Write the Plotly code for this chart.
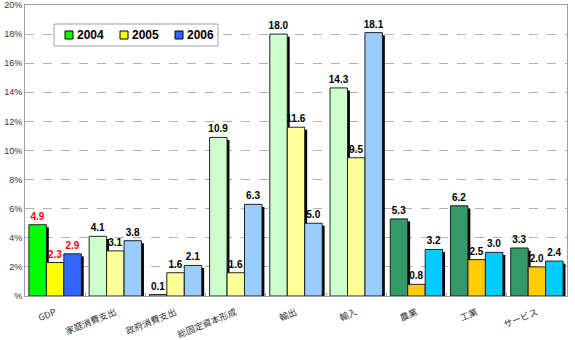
import plotly.graph_objects as go

# Real growth rates (%) by expenditure item and sector
categories = ["GDP", "家庭消費支出", "政府消費支出", "総固定資本形成", "輸出", "輸入",
              "農業", "工業", "サービス"]
years = ["2004", "2005", "2006"]
growth_2004 = [4.9, 4.1, 0.1, 10.9, 18.0, 14.3, 5.3, 6.2, 3.3]
growth_2005 = [2.3, 3.1, 1.6, 1.6, 11.6, 9.5, 0.8, 2.5, 2.0]
growth_2006 = [2.9, 3.8, 2.1, 6.3, 5.0, 18.1, 3.2, 3.0, 2.4]
y_ticks = [0, 2, 4, 6, 8, 10, 12, 14, 16, 18, 20]
y_tick_labels = ["%"] + [f"{v}%" for v in y_ticks[1:]]

# Colour sets: GDP / demand components / industry sectors
group_of = [0, 1, 1, 1, 1, 1, 2, 2, 2]
palette = {
    "2004": ["#00FF00", "#CCFFCC", "#339966"],
    "2005": ["#FFFF00", "#FFFF99", "#FFCC00"],
    "2006": ["#3366FF", "#99CCFF", "#00CCFF"],
}
label_colors = ["#FF0000" if g == 0 else "#000000" for g in group_of]

series = {"2004": growth_2004, "2005": growth_2005, "2006": growth_2006}

W, H = 575, 340
M = dict(l=25, r=8, t=5, b=44)
plot_w = W - M["l"] - M["r"]
plot_h = H - M["t"] - M["b"]


def px_x(px):
    return (px - M["l"]) / plot_w


def px_y(py):
    return (H - M["b"] - py) / plot_h


bar_w = 0.29
offsets = [-1.5 * bar_w, -0.5 * bar_w, 0.5 * bar_w]
shadow_dx = 0.04
shadow_dy = 0.18

fig = go.Figure()
for yr, off in zip(years, offsets):
    vals = series[yr]
    colors = [palette[yr][g] for g in group_of]
    # drop shadow behind each bar
    fig.add_trace(go.Bar(
        x=categories, y=vals, base=-shadow_dy, offset=off + shadow_dx, width=bar_w,
        marker=dict(color="#000000", line=dict(width=0)),
        showlegend=False, hoverinfo="skip",
    ))
    fig.add_trace(go.Bar(
        x=categories, y=vals, offset=off, width=bar_w, name=yr,
        marker=dict(color=colors, line=dict(color="#222222", width=1)),
        texttemplate="%{y:.1f}", textposition="outside", constraintext="none",
        textfont=dict(family="Liberation Sans", size=10, color=label_colors,
                      weight="bold"),
        cliponaxis=False, showlegend=False,
    ))

# Legend box drawn by hand for compact keys
shapes = [dict(type="rect", xref="paper", yref="paper",
               x0=px_x(54), x1=px_x(218), y0=px_y(46), y1=px_y(24),
               line=dict(color="#A0A0A0", width=1), fillcolor="white", layer="above")]
annotations = []
for i, yr in enumerate(years):
    kx = 65 + 55 * i
    shapes.append(dict(type="rect", xref="paper", yref="paper",
                       x0=px_x(kx), x1=px_x(kx + 8), y0=px_y(39), y1=px_y(31),
                       line=dict(color="#000000", width=1),
                       fillcolor=palette[yr][0], layer="above"))
    annotations.append(dict(xref="paper", yref="paper", x=px_x(kx + 10), y=px_y(35),
                            xanchor="left", yanchor="middle", showarrow=False,
                            text=f"<b>{yr}</b>",
                            font=dict(family="Liberation Sans", size=12, color="#000000")))

fig.update_layout(
    width=W, height=H,
    margin=M,
    paper_bgcolor="white", plot_bgcolor="white",
    barmode="overlay", showlegend=False,
    shapes=shapes, annotations=annotations,
    font=dict(family="Liberation Sans", size=9, color="#222222"),
    xaxis=dict(
        range=[-0.5, 8.5], tickangle=-22, tickson="boundaries", automargin=False,
        ticks="inside", ticklen=3, tickcolor="#A0A0A0", ticklabelstandoff=7,
        showline=True, linecolor="#A0A0A0", linewidth=1, mirror=True,
        tickfont=dict(family="Noto Sans CJK JP", size=9, color="#333333"),
        showgrid=False,
    ),
    yaxis=dict(
        range=[0, 20], tickvals=y_ticks, ticktext=y_tick_labels, automargin=False,
        showline=True, linecolor="#A0A0A0", linewidth=1, mirror=True,
        showgrid=True, gridcolor="#B0B0B0", griddash="dash", gridwidth=1,
        zeroline=False, ticks="", tickfont=dict(size=9, color="#333333"),
    ),
)

fig.write_html("out.html")
